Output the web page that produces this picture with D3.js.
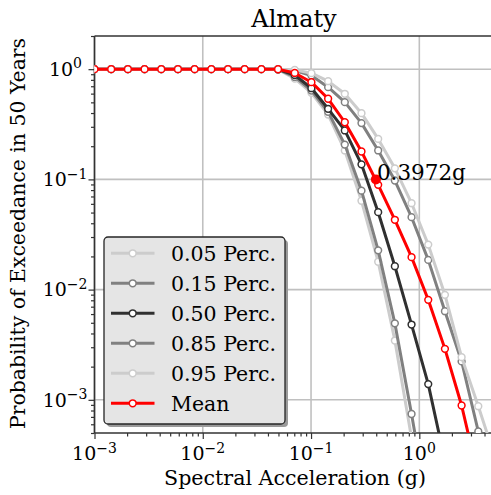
<!DOCTYPE html>
<html>
<head>
<meta charset="utf-8">
<script src="https://cdn.jsdelivr.net/npm/d3@7"></script>
<style>
  html, body { margin: 0; padding: 0; background: #ffffff; }
  svg { display: block; }
  text { font-family: "DejaVu Serif", serif; fill: #000; }
</style>
</head>
<body>
<svg id="chart" width="491" height="495"></svg>
<script>
// ---------------- DATA ----------------
const accel = [0.001, 0.001426, 0.002034, 0.0029, 0.004136, 0.005898, 0.00841, 0.01199, 0.0171,
  0.02438, 0.03477, 0.04958, 0.0707, 0.1008, 0.1438, 0.205, 0.2923, 0.4169, 0.5945, 0.8477,
  1.209, 1.724, 2.458, 3.505, 5.0];

const perc05 = [1, 1, 1, 1, 1, 1, 1, 1, 1, 1, 1, 0.995, 0.82, 0.61, 0.388, 0.183, 0.064, 0.0179,
  0.00345, 0.00045, 0.000045, null, null, null, null];
const perc15 = [1, 1, 1, 1, 1, 1, 1, 1, 1, 1, 1, 0.997, 0.85, 0.64, 0.41, 0.207, 0.079, 0.0227,
  0.00494, 0.000744, 0.0001, null, null, null, null];
const perc50 = [1, 1, 1, 1, 1, 1, 1, 1, 1, 1, 1, 0.998, 0.886, 0.672, 0.437, 0.278, 0.137, 0.0504,
  0.0163, 0.00482, 0.00139, 0.00028, null, null, null];
const perc85 = [1, 1, 1, 1, 1, 1, 1, 1, 1, 1, 1, 1.0, 0.97, 0.877, 0.687, 0.502, 0.324, 0.183,
  0.0977, 0.0454, 0.0186, 0.00637, 0.00223, 0.000516, 0.00012];
const perc95 = [1, 1, 1, 1, 1, 1, 1, 1, 1, 1, 1, 1.0, 0.985, 0.92, 0.778, 0.598, 0.399, 0.233,
  0.126, 0.0608, 0.0256, 0.00897, 0.00244, 0.000875, 0.0003];
const meanHaz = [1, 1, 1, 1, 1, 1, 1, 1, 1, 1, 1, 0.998, 0.924, 0.762, 0.539, 0.330, 0.179, 0.0893,
  0.0430, 0.0197, 0.00808, 0.00290, 0.000888, 0.000201, null];

const seriesNames = ["0.05 Perc.", "0.15 Perc.", "0.50 Perc.", "0.85 Perc.", "0.95 Perc.", "Mean"];
const seriesColors = ["#cccccc", "#808080", "#303030", "#808080", "#cccccc", "#ff0000"];
const seriesValues = [perc05, perc15, perc50, perc85, perc95, meanHaz];

const annotX = 0.3972, annotY = 0.1, annotLabel = "0.3972g";
const titleText = "Almaty";
const xLabel = "Spectral Acceleration (g)";
const yLabel = "Probability of Exceedance in 50 Years";
const xMajorTicks = [1e-3, 1e-2, 1e-1, 1];
const yMajorTicks = [1e-3, 1e-2, 1e-1, 1];
const xTickExp = ["\u22123", "\u22122", "\u22121", "0"];
const yTickExp = ["\u22123", "\u22122", "\u22121", "0"];

// ---------------- LAYOUT ----------------
const L = 94.5, R = 495, T = 36, B = 433;
const svg = d3.select("#chart");
const x = d3.scaleLog().domain([1e-3, 5]).range([L, R]);
const y = d3.scaleLog().domain([5e-4, 2]).range([B, T]);

svg.append("defs").append("clipPath").attr("id", "clip")
  .append("rect").attr("x", L).attr("y", T).attr("width", R - L).attr("height", B - T);

// grid
const grid = svg.append("g");
grid.selectAll(".gx").data(xMajorTicks).join("line")
  .attr("x1", d => x(d)).attr("x2", d => x(d)).attr("y1", T).attr("y2", B)
  .attr("stroke", "#c0c0c0").attr("stroke-width", 1.6);
grid.selectAll(".gy").data(yMajorTicks).join("line")
  .attr("x1", L).attr("x2", R).attr("y1", d => y(d)).attr("y2", d => y(d))
  .attr("stroke", "#c0c0c0").attr("stroke-width", 1.6);

// axes (ticks)
const xMinor = x.ticks().filter(t => !xMajorTicks.some(m => Math.abs(m - t) / m < 1e-9));
const yMinor = y.ticks().filter(t => !yMajorTicks.some(m => Math.abs(m - t) / m < 1e-9));

function styleAxis(g) {
  g.select(".domain").remove();
  g.selectAll(".tick line").attr("stroke", "#333").attr("stroke-width", 1.2);
  g.selectAll("text").remove();
}
svg.append("g").attr("transform", `translate(0,${B})`)
  .call(d3.axisBottom(x).tickValues(xMajorTicks).tickSize(6).tickFormat(""))
  .call(styleAxis);
svg.append("g").attr("transform", `translate(0,${B})`)
  .call(d3.axisBottom(x).tickValues(xMinor).tickSize(3.5).tickFormat(""))
  .call(styleAxis);
svg.append("g").attr("transform", `translate(${L},0)`)
  .call(d3.axisLeft(y).tickValues(yMajorTicks).tickSize(6).tickFormat(""))
  .call(styleAxis);
svg.append("g").attr("transform", `translate(${L},0)`)
  .call(d3.axisLeft(y).tickValues(yMinor).tickSize(3.5).tickFormat(""))
  .call(styleAxis);

// spines
svg.append("line").attr("x1", L).attr("x2", L).attr("y1", T).attr("y2", B)
  .attr("stroke", "#333").attr("stroke-width", 1.6);
svg.append("line").attr("x1", L).attr("x2", R).attr("y1", B).attr("y2", B)
  .attr("stroke", "#333").attr("stroke-width", 1.6);
svg.append("line").attr("x1", L).attr("x2", R).attr("y1", T).attr("y2", T)
  .attr("stroke", "#333").attr("stroke-width", 1.6);

// tick labels
const xl = svg.append("g");
xMajorTicks.forEach((t, i) => {
  const tx = xl.append("text").attr("x", x(t)).attr("y", 460)
    .attr("text-anchor", "middle").attr("font-size", 19);
  tx.append("tspan").text("10");
  tx.append("tspan").attr("dy", -7.5).attr("font-size", 14).text(xTickExp[i]);
});
const yl = svg.append("g");
yMajorTicks.forEach((t, i) => {
  const endX = yTickExp[i] === "0" ? 82 : 87.5;
  const tx = yl.append("text").attr("x", endX).attr("y", y(t) + 6.8)
    .attr("text-anchor", "end").attr("font-size", 19);
  tx.append("tspan").text("10");
  tx.append("tspan").attr("dy", -7.5).attr("font-size", 14).text(yTickExp[i]);
});

// axis labels + title
svg.append("text").attr("x", 295).attr("y", 485).attr("text-anchor", "middle")
  .attr("font-size", 20.6).text(xLabel);
svg.append("text").attr("transform", `translate(25,${(T + B) / 2 - 1}) rotate(-90)`)
  .attr("text-anchor", "middle").attr("font-size", 20.4).text(yLabel);
svg.append("text").attr("x", 294).attr("y", 27).attr("text-anchor", "middle")
  .attr("font-size", 24).text(titleText);

// series
const plot = svg.append("g").attr("clip-path", "url(#clip)");
const line = d3.line().defined(d => d[1] != null)
  .x(d => x(d[0])).y(d => y(d[1]));
seriesValues.forEach((vals, i) => {
  const pts = accel.map((a, j) => [a, vals[j]]);
  const g = plot.append("g");
  g.append("path").datum(pts).attr("d", line).attr("fill", "none")
    .attr("stroke", seriesColors[i]).attr("stroke-width", 3)
    .attr("stroke-linejoin", "round");
  g.selectAll("circle").data(pts.filter(d => d[1] != null)).join("circle")
    .attr("cx", d => x(d[0])).attr("cy", d => y(d[1])).attr("r", 3.4)
    .attr("fill", "#fff").attr("stroke", seriesColors[i]).attr("stroke-width", 1.5);
});

// annotation
plot.append("circle").attr("cx", x(annotX)).attr("cy", y(annotY)).attr("r", 5)
  .attr("fill", "#ff0000");
svg.append("text").attr("x", x(annotX) + 1).attr("y", y(annotY) + 1)
  .attr("font-size", 21.5).text(annotLabel);

// legend
const lg = svg.append("g");
lg.append("rect").attr("x", 107).attr("y", 240).attr("width", 181).attr("height", 187)
  .attr("rx", 4).attr("fill", "#9a9a9a");
lg.append("rect").attr("x", 104).attr("y", 237).attr("width", 181).attr("height", 187)
  .attr("rx", 4).attr("fill", "#e5e5e5").attr("stroke", "#262626").attr("stroke-width", 1.3);
seriesNames.forEach((name, i) => {
  const cy = 253.3 + i * 30;
  lg.append("line").attr("x1", 111).attr("x2", 154.5).attr("y1", cy).attr("y2", cy)
    .attr("stroke", seriesColors[i]).attr("stroke-width", 3);
  lg.append("circle").attr("cx", 132.7).attr("cy", cy).attr("r", 3.4)
    .attr("fill", "#fff").attr("stroke", seriesColors[i]).attr("stroke-width", 1.5);
  lg.append("text").attr("x", 171).attr("y", cy + 7.3).attr("font-size", 20.5).text(name);
});
</script>
</body>
</html>
